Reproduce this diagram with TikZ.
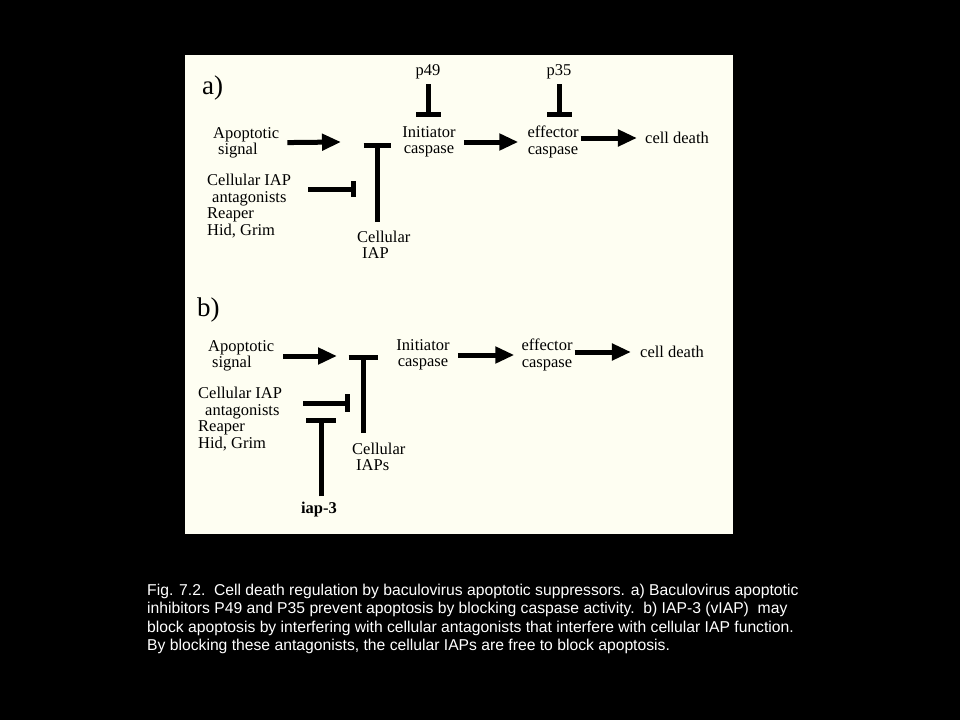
\documentclass[tikz,border=0pt]{standalone}
\usepackage{fontspec}
\setmainfont{Liberation Serif}
\newfontfamily\capfont{Liberation Sans}
\usetikzlibrary{arrows.meta}
\definecolor{panelbg}{RGB}{254,254,242}

\begin{document}
\begin{tikzpicture}[
  x=1pt, y=-1pt,
  txt/.style={inner sep=0pt, font=\fontsize{16.5}{16.5}\selectfont, align=left},
  ctxt/.style={txt, align=center},
  tag/.style={inner sep=0pt, font=\fontsize{27}{27}\selectfont},
  act/.style={line width=5pt, -{Triangle[length=19pt,width=16pt]}},
  inh/.style={line width=5pt, -{Bar[width=#1]}},
  inh/.default=16pt
]

% background and panel
\fill[black] (0,0) rectangle (960,720);
\fill[panelbg] (185,55) rectangle (733,534);

% Panel a
\node[tag, anchor=west] (a_tag) at (202,88) {a)};
\node[txt, anchor=west] (a_sig) at (213,143) {Apoptotic\\\hspace*{5pt}signal};
\node[txt, anchor=west] (a_ant) at (207,206) {Cellular IAP\\\hspace*{5pt}antagonists\\Reaper\\Hid, Grim};
\node[txt, anchor=west] (a_ciap) at (357,245) {Cellular\\\hspace*{5pt}IAP};
\node[ctxt] (a_p49) at (428,72) {p49};
\node[ctxt] (a_p35) at (559,72) {p35};
\node[ctxt] (a_init) at (429,142) {Initiator\\caspase};
\node[ctxt] (a_eff) at (553,142) {effector\\caspase};
\node[ctxt] (a_death) at (677,138) {cell death};

\coordinate (a_join) at (341,142);
\coordinate (a_block) at (356,189);
\coordinate (a_antfoot) at (308,189);
\coordinate (a_tfoot) at (377,222);
\coordinate (a_thead) at (377,143);
\coordinate (a_p49end) at (428,117);
\coordinate (a_p35end) at (559,117);

\draw[act, shorten <=8pt] (a_sig) -- (a_join);
\draw[inh] (a_antfoot) -- (a_block);
\draw[inh=27pt] (a_tfoot) -- (a_thead);
\draw[inh=25pt, shorten <=5pt] (a_p49) -- (a_p49end);
\draw[inh=25pt, shorten <=5pt] (a_p35) -- (a_p35end);
\draw[act, shorten <=8pt, shorten >=9pt] (a_init) -- (a_eff);
\draw[act, shorten <=2pt, shorten >=8pt] (a_eff.east |- a_death.west) -- (a_death.west);

% Panel b
\node[tag, anchor=west] (b_tag) at (197,310) {b)};
\node[txt, anchor=west] (b_sig) at (208,356) {Apoptotic\\\hspace*{4pt}signal};
\node[txt, anchor=west] (b_ant) at (198,419) {Cellular IAP\\\hspace*{7pt}antagonists\\Reaper\\Hid, Grim};
\node[txt, anchor=west] (b_ciap) at (352,457) {Cellular\\\hspace*{4pt}IAPs};
\node[inner sep=0pt, font=\fontsize{16.5}{16.5}\selectfont\bfseries] (b_iap3) at (319,510) {iap-3};
\node[ctxt] (b_init) at (423,355) {Initiator\\caspase};
\node[ctxt] (b_eff) at (547,355) {effector\\caspase};
\node[ctxt] (b_death) at (672,352) {cell death};

\coordinate (b_join) at (337,356);
\coordinate (b_block) at (350,403);
\coordinate (b_antfoot) at (303,403);
\coordinate (b_iaphead) at (321,418);
\coordinate (b_tfoot) at (363,433);
\coordinate (b_thead) at (363,355);

\draw[act, shorten <=9pt] (b_sig) -- (b_join);
\draw[inh=18pt] (b_antfoot) -- (b_block);
\draw[inh=30pt, shorten <=6pt] (b_iap3.north -| b_iaphead) -- (b_iaphead);
\draw[inh=29pt] (b_tfoot) -- (b_thead);
\draw[act, shorten <=8pt, shorten >=7pt] (b_init) -- (b_eff);
\draw[act, shorten <=2pt, shorten >=9pt] (b_eff.east |- b_death.west) -- (b_death.west);

% caption
\node[anchor=north west, inner sep=0pt, align=left, text=white,
      font=\capfont\fontsize{15.7}{18.4}\selectfont] (caption) at (147,584)
  {Fig. 7.2.\ \ Cell death regulation by baculovirus apoptotic suppressors. a) Baculovirus apoptotic\\
   inhibitors P49 and P35 prevent apoptosis by blocking caspase activity.\ \ b) IAP-3 (vIAP)\ \ may\\
   block apoptosis by interfering with cellular antagonists that interfere with cellular IAP function.\\
   By blocking these antagonists, the cellular IAPs are free to block apoptosis.};

\end{tikzpicture}
\end{document}
